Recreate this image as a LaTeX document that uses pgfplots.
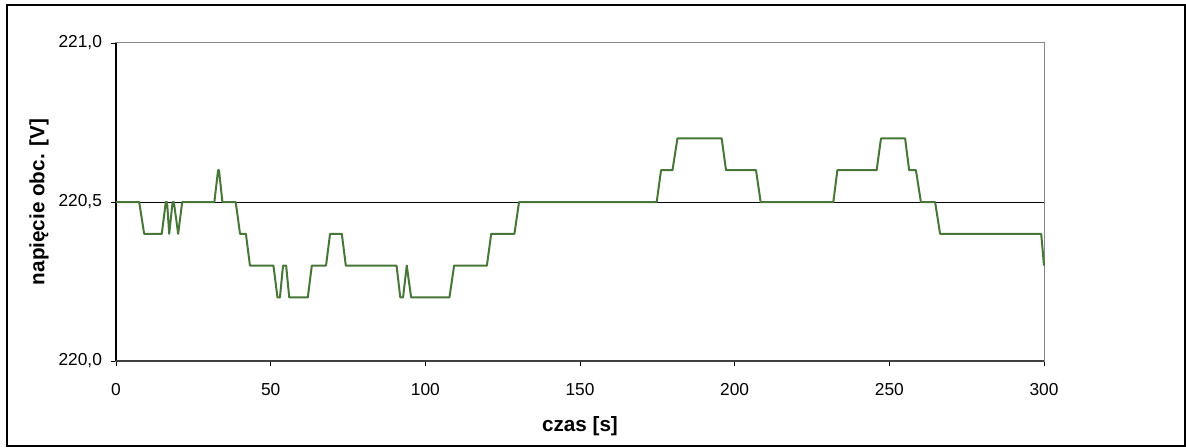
\documentclass[border=0pt]{standalone}
\usepackage{fontspec}
\setmainfont{Liberation Sans}
\usepackage{pgfplots}
\pgfplotsset{compat=1.18}
\definecolor{linegreen}{RGB}{72,118,56}
\definecolor{boxgray}{RGB}{134,134,134}
\begin{document}
\begin{tikzpicture}
\useasboundingbox (-87pt,-64.5pt) rectangle (802.5pt,270.75pt);
\draw[black, line width=0.9pt] (-81.75pt,-63.75pt) rectangle (801.75pt,267pt);
\begin{axis}[
  at={(0,0)}, anchor=south west,
  scale only axis,
  width=696pt, height=238.5pt,
  xmin=0, xmax=300, ymin=220, ymax=221,
  xtick={0,50,...,300},
  ytick={220,220.5,221},
  tick align=outside,
  major tick length=4pt,
  tick style={black, line width=0.6pt},
  xtick pos=bottom, ytick pos=left,
  axis line style={boxgray, line width=0.75pt},
  /pgf/number format/assume math mode=true,
  yticklabel={\pgfmathprintnumber[fixed,fixed zerofill,precision=1,use comma]{\tick}},
  xticklabel={\pgfmathprintnumber[fixed,precision=0]{\tick}},
  scaled y ticks=false,
  every tick label/.append style={font=\fontsize{13}{15}\selectfont, text=black},
  xticklabel style={yshift=-9pt},
  yticklabel style={xshift=-3pt},
  xlabel={\bfseries czas [s]},
  ylabel={\bfseries napięcie obc. [V]},
  xlabel style={font=\fontsize{15.5}{18}\selectfont, anchor=center, at={(axis description cs:0.5,-0.2045)}},
  ylabel style={font=\fontsize{15.5}{18}\selectfont, anchor=center, rotate=0, at={(axis description cs:-0.0830,0.5)}},
  clip=false,
]
\addplot[black, line width=0.75pt, forget plot] coordinates {(0,220.5) (300,220.5)};
\addplot[black, line width=0.9pt, forget plot] coordinates {(0,220) (0,221)};
\addplot[black!75, line width=0.8pt, forget plot] coordinates {(0,220) (300,220)};
\addplot[linegreen, line width=1.5pt, line join=round, mark=none] coordinates {
(0,220.5) (7.5,220.5) (9.1,220.4) (14.8,220.4) (16.1,220.5) (16.5,220.5) (17.2,220.4)
(18.3,220.5) (18.7,220.5) (20.1,220.4) (21.4,220.5) (31.8,220.5) (33.0,220.6) (33.3,220.6)
(34.4,220.5) (38.7,220.5) (40.1,220.4) (42.0,220.4) (43.3,220.3) (50.9,220.3) (52.2,220.2)
(53.0,220.2) (54.0,220.3) (55.0,220.3) (56.0,220.2) (62.0,220.2) (63.3,220.3) (67.9,220.3)
(69.2,220.4) (73.0,220.4) (74.3,220.3) (90.7,220.3) (91.9,220.2) (92.8,220.2) (94.0,220.3)
(95.4,220.2) (107.8,220.2) (109.3,220.3) (119.9,220.3) (121.3,220.4) (128.8,220.4)
(130.3,220.5) (174.8,220.5) (176.2,220.6) (179.9,220.6) (181.5,220.7) (195.8,220.7)
(197.2,220.6) (206.9,220.6) (208.4,220.5) (231.9,220.5) (233.2,220.6) (245.9,220.6)
(247.3,220.7) (255.1,220.7) (256.4,220.6) (258.6,220.6) (260.2,220.5) (264.8,220.5)
(266.4,220.4) (299.1,220.4) (300,220.3)
};
\end{axis}
\end{tikzpicture}
\end{document}
